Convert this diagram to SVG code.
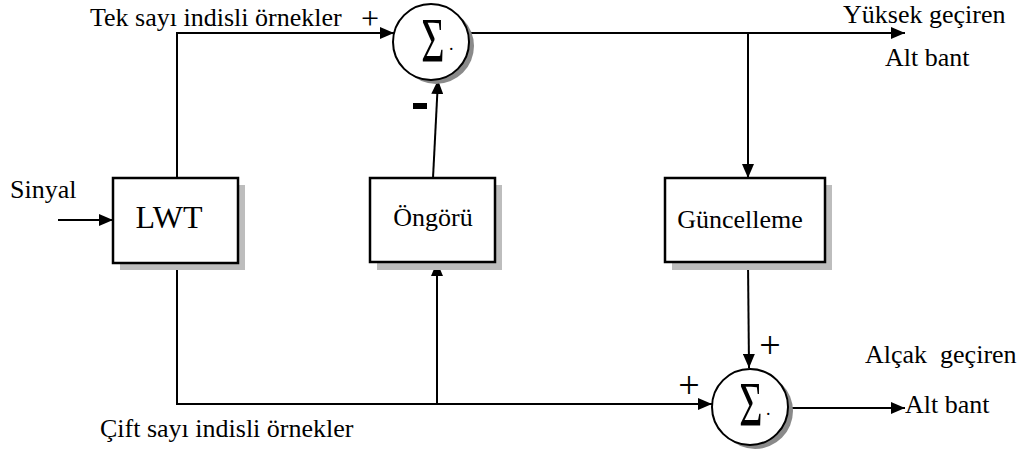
<svg xmlns="http://www.w3.org/2000/svg" width="1032" height="450" viewBox="0 0 1032 450" font-family="'Liberation Serif', 'Times New Roman', Times, 'DejaVu Serif', serif">
<defs>
<marker id="arr" viewBox="0 0 14 12" refX="14" refY="6" markerWidth="14" markerHeight="12" markerUnits="userSpaceOnUse" orient="auto">
<path d="M0,0 L14,6 L0,12 Z" fill="#000"/>
</marker>
</defs>
<style>
text{font-family:'Liberation Serif','Times New Roman',Times,'DejaVu Serif',serif;fill:#000}
.lbl{font-size:26px}
.box{fill:#fff;stroke:#000;stroke-width:2.5}
.shd{fill:#bdbdbd}
.cshd{fill:#8a8a8a}
.circ{fill:#fff;stroke:#000;stroke-width:2}
.ln{fill:none;stroke:#000;stroke-width:2}
.sig{font-size:40px}
.sgn{font-size:38px}
</style>
<rect width="1032" height="450" fill="#fff"/>

<g id="connectors">
<path class="ln" d="M58,220 L113,220" marker-end="url(#arr)"/>
<path class="ln" d="M177,178 L177,33 L394,33" marker-end="url(#arr)"/>
<path class="ln" d="M177,263 L177,404 L712,404" marker-end="url(#arr)"/>
<path class="ln" d="M437,404 L437,262" marker-end="url(#arr)"/>
<path class="ln" d="M433,178 L438,80" marker-end="url(#arr)"/>
<path class="ln" d="M469,33 L905,33" marker-end="url(#arr)"/>
<path class="ln" d="M748,33 L748,178" marker-end="url(#arr)"/>
<path class="ln" d="M748,262 L749,368" marker-end="url(#arr)"/>
<path class="ln" d="M789,408 L905,408" marker-end="url(#arr)"/>
</g>

<g id="sum1">
<circle class="cshd" cx="436" cy="46" r="38"/>
<circle class="circ" cx="431" cy="42" r="38"/>
<text class="sig" text-anchor="middle" transform="translate(433,62) scale(1,1.6)">Σ</text>
<text x="449" y="50" font-size="18">.</text>
</g>

<g id="sum2">
<circle class="cshd" cx="755" cy="411" r="38"/>
<circle class="circ" cx="750" cy="407" r="38"/>
<text class="sig" text-anchor="middle" transform="translate(751,426) scale(1,1.6)">Σ</text>
<text x="766" y="415" font-size="18">.</text>
</g>

<g id="lwt">
<rect class="shd" x="120" y="185" width="125" height="85"/>
<rect class="box" x="113" y="178" width="125" height="85"/>
<text x="169" y="228" font-size="32" text-anchor="middle">LWT</text>
</g>

<g id="ongoru">
<rect class="shd" x="377" y="185" width="125" height="85"/>
<rect class="box" x="370" y="178" width="125" height="84"/>
<text class="lbl" x="433" y="226" text-anchor="middle">Öngörü</text>
</g>

<g id="guncelleme">
<rect class="shd" x="672" y="185" width="160" height="85"/>
<rect class="box" x="665" y="178" width="160" height="84"/>
<text class="lbl" x="740" y="228" text-anchor="middle">Güncelleme</text>
</g>

<g id="labels">
<text class="lbl" x="90" y="26">Tek sayı indisli örnekler</text>
<text x="370" y="29" text-anchor="middle" font-size="32">+</text>
<rect x="413" y="103" width="14" height="6" fill="#000"/>
<text class="lbl" x="10" y="198">Sinyal</text>
<text class="lbl" x="843" y="23">Yüksek geçiren</text>
<text class="lbl" x="885" y="66">Alt bant</text>
<text class="lbl" x="865" y="363" xml:space="preserve">Alçak  geçiren</text>
<text class="lbl" x="905" y="413">Alt bant</text>
<text class="lbl" x="100" y="437">Çift sayı indisli örnekler</text>
<text class="sgn" x="689" y="398" text-anchor="middle">+</text>
<text class="sgn" x="770" y="358" text-anchor="middle">+</text>
</g>
</svg>
